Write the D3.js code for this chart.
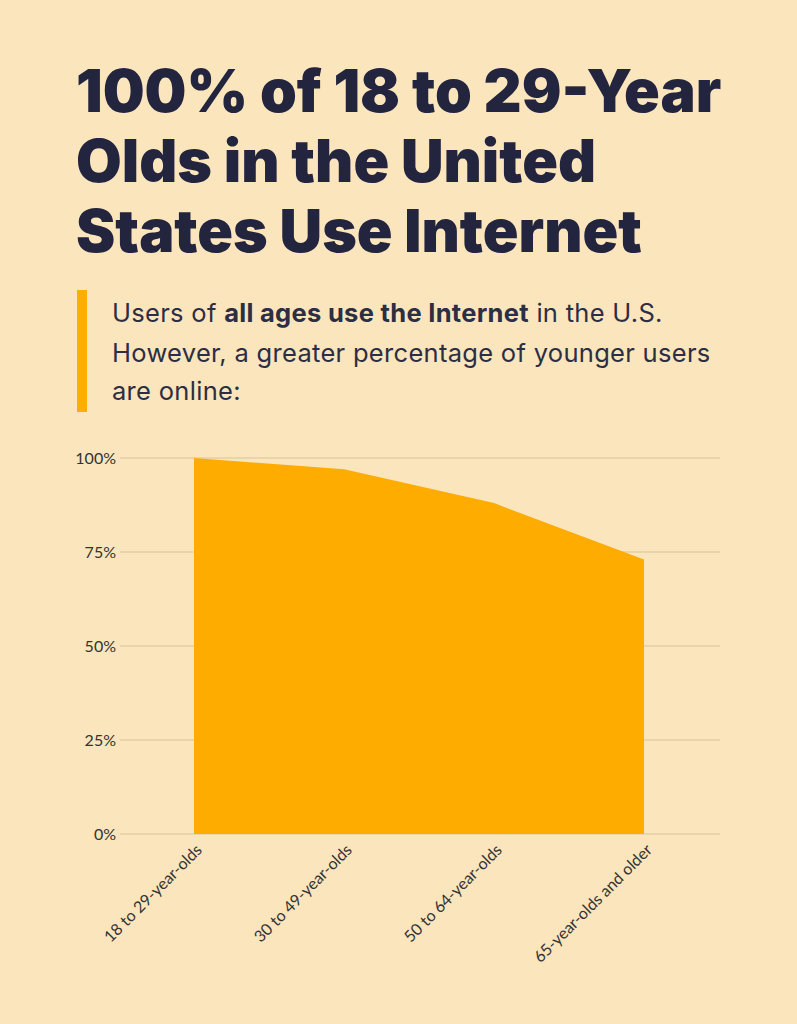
<!DOCTYPE html>
<html><head><meta charset="utf-8">
<script src="https://cdn.jsdelivr.net/npm/d3@7"></script>
<style>
html,body{margin:0;padding:0;background:#FAE5BD;}
svg{display:block;}
</style></head>
<body>
<svg id="c" width="797" height="1024"></svg>
<script>
const titleLines = ["100% of 18 to 29-Year", "Olds in the United", "States Use Internet"];
const categories = ["18 to 29-year-olds", "30 to 49-year-olds", "50 to 64-year-olds", "65-year-olds and older"];
const values = [100, 97, 88, 73];
const yTicks = [0, 25, 50, 75, 100];

const svg = d3.select("#c");
svg.append("rect").attr("width",797).attr("height",1024).attr("fill","#FAE5BD");

// Title
const title = svg.append("text").attr("x",76).attr("y",112)
  .attr("font-family","Inter").attr("font-weight",900).attr("font-size",59)
  .attr("fill","#23253F").attr("letter-spacing","0");
titleLines.forEach((t,i)=>title.append("tspan").attr("x",76).attr("y",112+i*70).text(t));

// Quote bar
svg.append("rect").attr("x",77).attr("y",290).attr("width",10).attr("height",122).attr("fill","#FFAD00");

const sub = svg.append("g").attr("font-family","Inter").attr("font-size",25.5).attr("fill","#2C2E44").attr("letter-spacing","0.3");
const l1 = sub.append("text").attr("x",112).attr("y",322);
l1.append("tspan").text("Users of ");
l1.append("tspan").attr("font-weight",700).text("all ages use the Internet");
l1.append("tspan").text(" in the U.S.");
sub.append("text").attr("x",112).attr("y",361.5).text("However, a greater percentage of younger users");
sub.append("text").attr("x",112).attr("y",400).text("are online:");

// Chart
const x = d3.scalePoint().domain(categories).range([194,644]);
const y = d3.scaleLinear().domain([0,100]).range([834,458]);

const grid = svg.append("g");
grid.selectAll("line").data(yTicks).join("line")
  .attr("x1",120).attr("x2",720)
  .attr("y1",d=>y(d)).attr("y2",d=>y(d))
  .attr("stroke","#E3CFA6").attr("stroke-width",1.5);
grid.selectAll("text").data(yTicks).join("text")
  .attr("x",116).attr("y",d=>y(d)).attr("dy","0.35em")
  .attr("text-anchor","end").attr("font-family","Lato").attr("font-size",16)
  .attr("fill","#333").text(d=>d+"%");

const data = categories.map((c,i)=>({c, v: values[i]}));
const area = d3.area().x(d=>x(d.c)).y0(y(0)).y1(d=>y(d.v));
svg.append("path").datum(data).attr("d",area).attr("fill","#FFAC00");

svg.append("g").selectAll("text").data(categories).join("text")
  .attr("transform",d=>`translate(${x(d)+9},${y(0)+17}) rotate(-45)`)
  .attr("text-anchor","end").attr("font-family","Lato").attr("font-size",16)
  .attr("fill","#333").text(d=>d);
</script>
</body></html>
